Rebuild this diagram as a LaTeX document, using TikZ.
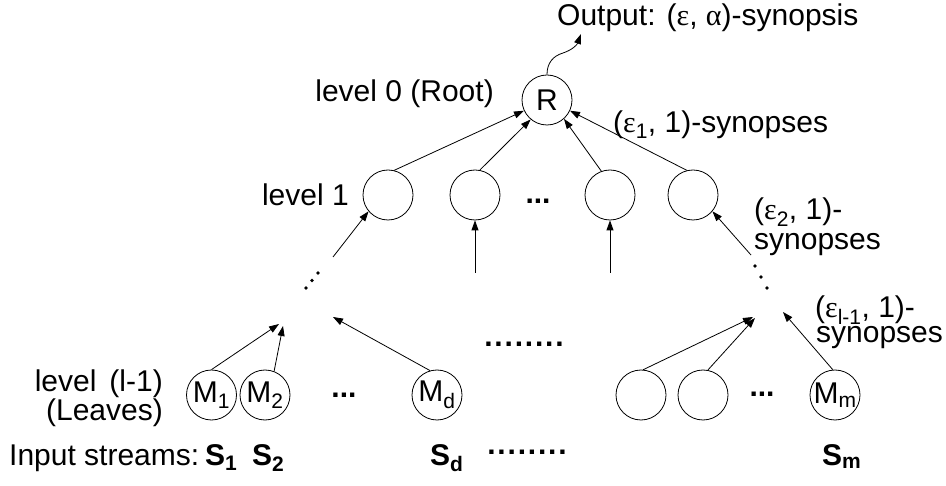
\documentclass[tikz,border=0pt]{standalone}
\usepackage{fontspec}
\setmainfont{Liberation Sans}
\newfontfamily\grk{Liberation Serif}
\usetikzlibrary{arrows.meta}
\begin{document}
\begin{tikzpicture}[x=1pt,y=-1pt,
  every node/.style={font=\fontsize{30}{34}\selectfont, inner sep=0pt},
  circ/.style={draw, circle, minimum size=50pt, inner sep=0pt, line width=0.8pt},
  arr/.style={-{Triangle[length=10pt,width=7pt]}, line width=0.8pt},
  dotmark/.style={fill, circle, minimum size=3.8pt, inner sep=0pt},
  dots/.style={anchor=base, font=\fontsize{30}{34}\selectfont\bfseries}
]
\useasboundingbox (0,0) rectangle (946,486);
% circles
\node[circ] (R) at (547,100) {R};
\node[circ] (c1) at (388,195) {};
\node[circ] (c2) at (475,195) {};
\node[circ] (c3) at (610,195) {};
\node[circ] (c4) at (693,195) {};
\node[circ] (m1) at (211.5,395) {M\textsubscript{1}};
\node[circ] (m2) at (265,395) {M\textsubscript{2}};
\node[circ] (md) at (437,395) {M\textsubscript{d}};
\node[circ] (r1) at (641,395) {};
\node[circ] (r2) at (703,395) {};
\node[circ] (mm) at (835,395) {M\textsubscript{m}};
% labels
\node[anchor=base west] (out) at (557,26) {Output: ({\grk ε}, {\grk α})-synopsis};
\node[anchor=base east] (l0) at (494,102) {level 0 (Root)};
\node[anchor=base east] (l1) at (349,206) {level 1};
\node[anchor=base west] (e1) at (613,133) {({\grk ε}\textsubscript{1}, 1)-synopses};
\node[anchor=base west, align=left, font=\fontsize{30}{30}\selectfont] (e2) at (754,250) {({\grk ε}\textsubscript{2}, 1)-\\synopses};
\node[anchor=base west, align=left, font=\fontsize{30}{25}\selectfont] (e3) at (815,343) {({\grk ε}\textsubscript{l-1}, 1)-\\\hspace*{1pt}synopses};
\node[anchor=base east, align=right, font=\fontsize{30}{30}\selectfont] (lv) at (163,421) {level\hspace{13pt}(l-1)\\(Leaves)};
\node[anchor=base west] (inp) at (9,465) {Input streams:};
\node[anchor=base west] (s1) at (205,465) {\textbf{S\textsubscript{1}}};
\node[anchor=base west] (s2) at (252,465) {\textbf{S\textsubscript{2}}};
\node[anchor=base west] (sd) at (430,465) {\textbf{S\textsubscript{d}}};
\node[anchor=base west] (sm) at (822,465) {\textbf{S\textsubscript{m}}};
% ellipses
\node[dots] (d1) at (538,204) {...};
\node[dots] (d2) at (344,397.5) {...};
\node[dots] (d3) at (762,397) {...};
\node[dots] (d4) at (524,347) {\addfontfeature{LetterSpace=6}........};
\node[dots] (d5) at (527,455) {\addfontfeature{LetterSpace=6}........};
% diagonal dots
\node[dotmark] (u1) at (306,288) {};
\node[dotmark] (u2) at (312,280.5) {};
\node[dotmark] (u3) at (318,273) {};
\node[dotmark] (v1) at (755,266) {};
\node[dotmark] (v2) at (761,277) {};
\node[dotmark] (v3) at (767,288) {};
% free ends
\coordinate (a1) at (333,257);
\coordinate (a2) at (475,273);
\coordinate (a3) at (610,273);
\coordinate (a4) at (751,255);
\coordinate (t1) at (279,324);
\coordinate (t2) at (283,326);
\coordinate (t3) at (333,317);
\coordinate (t4) at (753,317);
\coordinate (t5) at (755,318);
\coordinate (t6) at (783,312);
\coordinate (o1) at (581,34);
% level 1 -> root
\draw[arr] (c1.76) -- (R.205);
\draw[arr] (c2.79) -- (R.230);
\draw[arr] (c3.110) -- (R.312);
\draw[arr] (c4.104) -- (R.335);
% into level 1
\draw[arr] (a1) -- (c1.220);
\draw[arr] (a2) -- (c2.south);
\draw[arr] (a3) -- (c3.south);
\draw[arr] (a4) -- (c4.320);
% leaves
\draw[arr] (m1.90) -- (t1);
\draw[arr] (m2.69) -- (t2);
\draw[arr] (md.106) -- (t3);
\draw[arr] (r1.85) -- (t4);
\draw[arr] (r2.79) -- (t5);
\draw[arr] (mm.95) -- (t6);
% output
\draw[arr] (R.north) .. controls (547,63) and (553,56) .. (563,53) .. controls (572,50) and (577,45) .. (o1);
\end{tikzpicture}
\end{document}
